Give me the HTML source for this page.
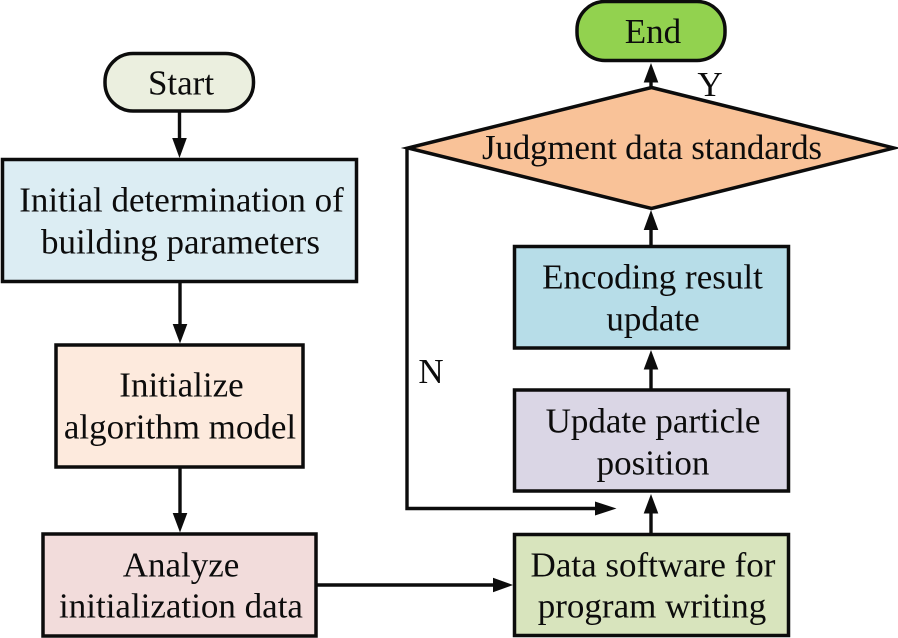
<!DOCTYPE html>
<html>
<head>
<meta charset="utf-8">
<style>
html,body{margin:0;padding:0;background:#fff;}
svg{display:block;}
text{font-family:"Liberation Serif",serif;font-size:35px;fill:#0c0c0c;text-anchor:middle;}
.s{stroke:#0c0c0c;stroke-width:3.5;stroke-miterlimit:10;}
.l{stroke:#0c0c0c;stroke-width:3.4;fill:none;stroke-miterlimit:10;}
.a{fill:#0c0c0c;stroke:none;}
</style>
</head>
<body>
<svg width="898" height="638" viewBox="0 0 898 638" xmlns="http://www.w3.org/2000/svg">
<rect class="s" x="105" y="53.5" width="148.5" height="57.5" rx="28" fill="#ebefdf"/>
<text x="181" y="94.5">Start</text>
<rect class="s" x="2.5" y="159.5" width="354" height="122" fill="#dcedf3"/>
<text x="181.5" y="211.5">Initial determination of</text>
<text x="180.5" y="253.5">building parameters</text>
<rect class="s" x="56" y="345" width="247" height="122" fill="#fdeadd"/>
<text x="181.5" y="396.5">Initialize</text>
<text x="180" y="438.5">algorithm model</text>
<rect class="s" x="43" y="534" width="273" height="102" fill="#f2dcdb"/>
<text x="181" y="576.5">Analyze</text>
<text x="181" y="617.5">initialization data</text>
<rect class="s" x="514.5" y="534.5" width="274" height="101" fill="#d8e4bd"/>
<text x="653" y="576.5">Data software for</text>
<text x="652" y="617.5">program writing</text>
<rect class="s" x="514.5" y="390" width="274" height="101" fill="#dad6e5"/>
<text x="653" y="432.5">Update particle</text>
<text x="653" y="474.5">position</text>
<rect class="s" x="514.5" y="246.5" width="274" height="101.5" fill="#b7dde8"/>
<text x="652.5" y="288.5">Encoding result</text>
<text x="653" y="330.5">update</text>
<polygon class="s" points="651.5,87.5 894,148 651.5,208.5 408,148" fill="#f9c298"/>
<text x="652" y="159" textLength="340" lengthAdjust="spacing">Judgment data standards</text>
<rect class="s" x="577" y="1.5" width="148" height="59" rx="28" fill="#92d24f"/>
<text x="653" y="43">End</text>
<text x="710" y="96">Y</text>
<text x="431" y="383">N</text>
<line class="l" x1="179.5" y1="111" x2="179.5" y2="142"/>
<polygon class="a" points="172.2,138 186.8,138 179.5,158"/>
<line class="l" x1="180" y1="282" x2="180" y2="328"/>
<polygon class="a" points="172.7,324 187.3,324 180,343.5"/>
<line class="l" x1="180" y1="467" x2="180" y2="517"/>
<polygon class="a" points="172.7,513 187.3,513 180,532.5"/>
<line class="l" x1="316" y1="585" x2="496" y2="585"/>
<polygon class="a" points="493,577.7 493,592.3 513,585"/>
<line class="l" x1="651" y1="534" x2="651" y2="510"/>
<polygon class="a" points="643.7,513.5 658.3,513.5 651,494"/>
<line class="l" x1="651" y1="390" x2="651" y2="366"/>
<polygon class="a" points="643.7,369.5 658.3,369.5 651,350"/>
<line class="l" x1="651" y1="246" x2="651" y2="226"/>
<polygon class="a" points="643.7,230 658.3,230 651,210"/>
<line class="l" x1="651" y1="87" x2="651" y2="78"/>
<polygon class="a" points="643.7,82.5 658.3,82.5 651,63"/>
<polyline class="l" points="407,148 407,508.5 600,508.5"/>
<polygon class="a" points="595,501.5 595,515.5 616.5,508.5"/>
</svg>
</body>
</html>
